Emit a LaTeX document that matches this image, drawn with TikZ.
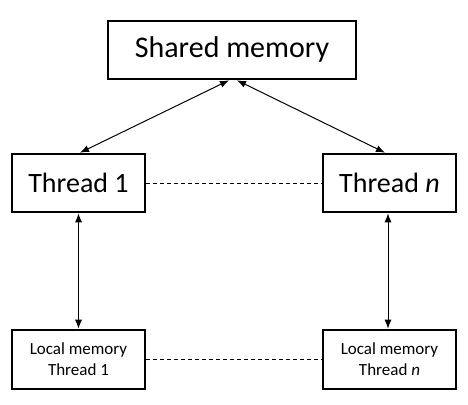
\documentclass[tikz,border=0pt]{standalone}
\usepackage{fontspec}
\setmainfont{Carlito}
\usetikzlibrary{arrows.meta}
\tikzset{
	bloc/.style={draw,line width=2.6pt,minimum width=133pt,minimum height=58pt,inner sep=0pt,font=\fontsize{28}{30}\selectfont},
	petit/.style={bloc,font=\fontsize{17}{21}\selectfont,align=center},
	fleche/.style={line width=1pt,{Latex[length=9pt,width=7pt]}-{Latex[length=9pt,width=7pt]}},
	pointille/.style={line width=1pt,dash pattern=on 4pt off 3pt}
}
\begin{document}
\begin{tikzpicture}[x=1pt,y=-1pt]
			\useasboundingbox (0,0) rectangle (468,404);
			\node[bloc,minimum width=248pt,font=\fontsize{30}{32}\selectfont] (shared) at (232,50) {Shared memory};
			\node[bloc] (thread1) at (78.5,183) {Thread 1};
			\node[bloc] (threadn) at (389.5,183) {Thread \textit{n}};
			\node[petit,minimum height=59pt] (local1) at (78.5,359.5) {Local memory\\Thread 1};
			\node[petit,minimum height=59pt] (localn) at (389.5,359.5) {Local memory\\Thread \textit{n}};
			\draw[fleche] ([xshift=1.5pt]thread1.north) -- ([xshift=-3pt]shared.south); % vers la memoire partagee
			\draw[fleche] ([xshift=-4.5pt]threadn.north) -- ([xshift=5pt]shared.south);
			\draw[fleche] (thread1.south) -- (local1.north);
			\draw[fleche] ([xshift=-1.5pt]threadn.south) -- ([xshift=-1.5pt]localn.north);
			\draw[pointille] (thread1.east) -- (threadn.west);
			\draw[pointille] (local1.east) -- (localn.west);
\end{tikzpicture}
\end{document}
